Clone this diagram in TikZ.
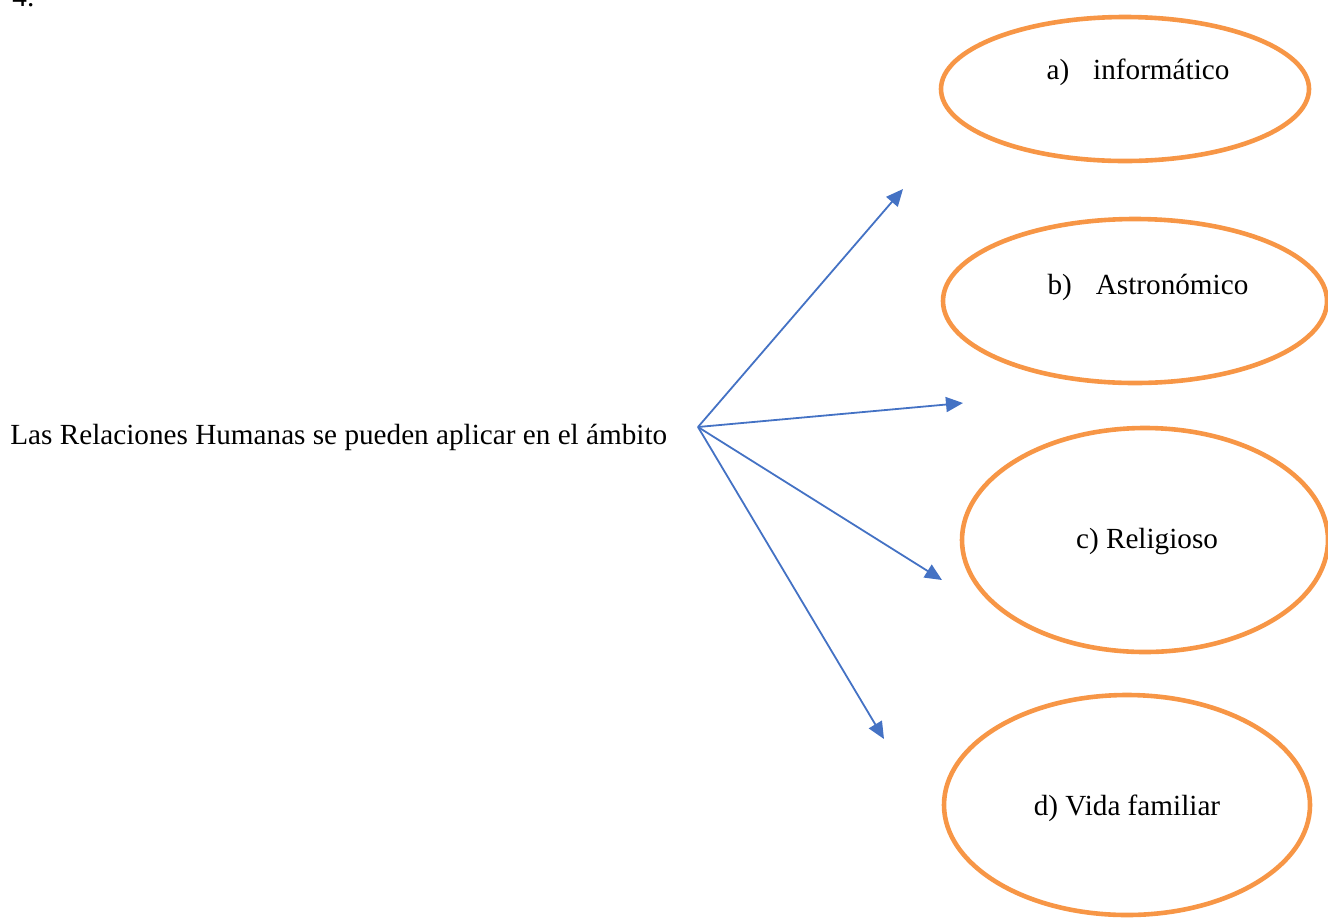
\documentclass[tikz,border=0pt]{standalone}
\usepackage{fontspec}
\setmainfont{Liberation Serif}
\usetikzlibrary{shapes.geometric,arrows.meta}
\definecolor{ovalorange}{RGB}{247,150,70}
\definecolor{arrowblue}{RGB}{68,114,196}
\begin{document}
\begin{tikzpicture}[x=0.5pt,y=-0.5pt,
  every node/.style={font=\fontsize{14.6}{17}\selectfont},
  oval/.style={ellipse,draw=ovalorange,line width=2.3pt,inner sep=0pt},
  link/.style={draw=arrowblue,line width=0.9pt,-{Triangle[length=8.5pt,width=7.5pt]}}]
\useasboundingbox (0,0) rectangle (1328,917);
% item number
\node[anchor=base west,inner sep=0pt] (num) at (12,6) {4.};
% central statement and the point the arrows fan out from
\node[anchor=base west,inner sep=0pt] (stmt) at (10,444) {Las Relaciones Humanas se pueden aplicar en el ámbito};
\coordinate (hub) at (698,427);
% the four fields
\node[oval,minimum width=184pt,minimum height=72pt] (oa) at (1125,89) {};
\node at (1138,72) (ta) {a)\hspace{12pt}informático};
\node[oval,minimum width=192pt,minimum height=82pt] (ob) at (1135,301) {};
\node at (1148,287) (tb) {b)\hspace{12pt}Astronómico};
\node[oval,minimum width=183pt,minimum height=112pt] (oc) at (1145,540) {};
\node at (1147,542) (tc) {c) Religioso};
\node[oval,minimum width=183pt,minimum height=110pt] (od) at (1127,805) {};
\node at (1127,808) (td) {d) Vida familiar};
% arrow ends
\coordinate (ea) at (903,189);
\coordinate (eb) at (963,403);
\coordinate (ec) at (942,580);
\coordinate (ed) at (884,739);
\draw[link] (hub) -- (ea);
\draw[link] (hub) -- (eb);
\draw[link] (hub) -- (ec);
\draw[link] (hub) -- (ed);
\end{tikzpicture}
\end{document}
